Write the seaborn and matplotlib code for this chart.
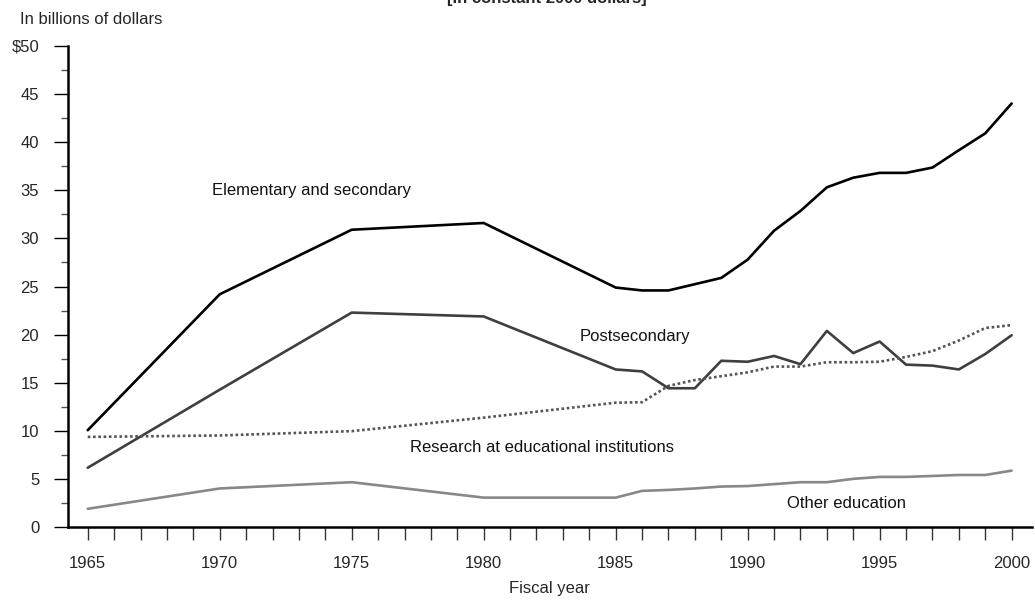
import pandas as pd
import numpy as np
import matplotlib
matplotlib.use("Agg")
import matplotlib.pyplot as plt
from matplotlib.ticker import MultipleLocator
import seaborn as sns

# values, billions of constant 2000 dollars
years_main = [1965, 1970, 1975, 1980] + list(range(1985, 2001))

elementary = [10.1, 24.2, 30.9, 31.6,
              24.9, 24.6, 24.6, 25.25, 25.9, 27.8, 30.8, 32.85, 35.3, 36.3,
              36.8, 36.8, 37.35, 39.15, 40.9, 44.0]
postsecondary = [6.2, 14.3, 22.3, 21.9,
                 16.4, 16.2, 14.45, 14.45, 17.3, 17.2, 17.8, 16.95, 20.4, 18.1,
                 19.3, 16.9, 16.8, 16.4, 18.0, 19.95]
research = [9.4, 9.55, 10.0, 11.4,
            12.95, 13.0, 14.7, 15.3, 15.7, 16.1, 16.7, 16.7, 17.15, 17.15,
            17.2, 17.7, 18.3, 19.4, 20.7, 21.0]
other = [1.94, 4.05, 4.7, 3.1,
         3.1, 3.8, 3.9, 4.05, 4.25, 4.3, 4.5, 4.7, 4.7, 5.05,
         5.25, 5.25, 5.35, 5.45, 5.45, 5.9]

series_names = ["Elementary and secondary", "Postsecondary",
                "Research at educational institutions", "Other education"]
x_ticks = list(range(1965, 2001, 5))
y_ticks = list(range(0, 51, 5))
y_labels = ["\\$50" if v == 50 else str(v) for v in y_ticks]

df = pd.DataFrame({
    "year": years_main * 4,
    "value": elementary + postsecondary + research + other,
    "series": np.repeat(series_names, len(years_main)),
})

sns.set_style("ticks")
plt.rcParams["font.family"] = ["Liberation Sans", "DejaVu Sans"]

fig = plt.figure(figsize=(10.35, 6.01), dpi=100)
ax = fig.add_axes([0.0654, 0.1223, 0.9314, 0.8017])

palette = {
    "Elementary and secondary": "#000000",
    "Postsecondary": "#3f3f3f",
    "Research at educational institutions": "#555555",
    "Other education": "#888888",
}
dashes = {
    "Elementary and secondary": "",
    "Postsecondary": "",
    "Research at educational institutions": (1, 1),
    "Other education": "",
}
sns.lineplot(data=df, x="year", y="value", hue="series", style="series",
             palette=palette, dashes=dashes, linewidth=1.9, legend=False, ax=ax)

ax.set_xlim(1964.24, 2000.76)
ax.set_ylim(0, 50)
ax.set_xticks(x_ticks)
ax.set_xticklabels([str(v) for v in x_ticks])
ax.xaxis.set_minor_locator(MultipleLocator(1))
ax.set_yticks(y_ticks)
ax.set_yticklabels(y_labels)
ax.yaxis.set_minor_locator(MultipleLocator(2.5))

sns.despine(ax=ax)
for s in ["left", "bottom"]:
    ax.spines[s].set_linewidth(1.8)
    ax.spines[s].set_color("black")

ax.tick_params(axis="x", which="both", direction="out", length=9.5, width=1,
               color="#333333", labelsize=12, pad=11)
ax.tick_params(axis="y", which="major", direction="out", length=10, width=1,
               color="black", labelsize=12, pad=10.5)
ax.tick_params(axis="y", which="minor", direction="out", length=5, width=1,
               color="#555555")

ax.set_xlabel("Fiscal year", fontsize=12, labelpad=7)
ax.set_ylabel("")

txt = dict(fontsize=12, color="#111111", va="center", ha="left")
ax.text(1969.7, 35.0, "Elementary and secondary", **txt)
ax.text(1983.65, 19.8, "Postsecondary", **txt)
ax.text(1977.2, 8.3, "Research at educational institutions", **txt)
ax.text(1991.5, 2.45, "Other education", **txt)

fig.text(0.019, 1 - 20 / 601, "In billions of dollars", fontsize=12,
         va="center", ha="left")
# the reference crops this subtitle at the top edge
fig.text(0.528, 1 - 3 / 601, "[In constant 2000 dollars]", fontsize=12,
         fontweight="bold", va="baseline", ha="center")

fig.savefig("out.png", dpi=100)
